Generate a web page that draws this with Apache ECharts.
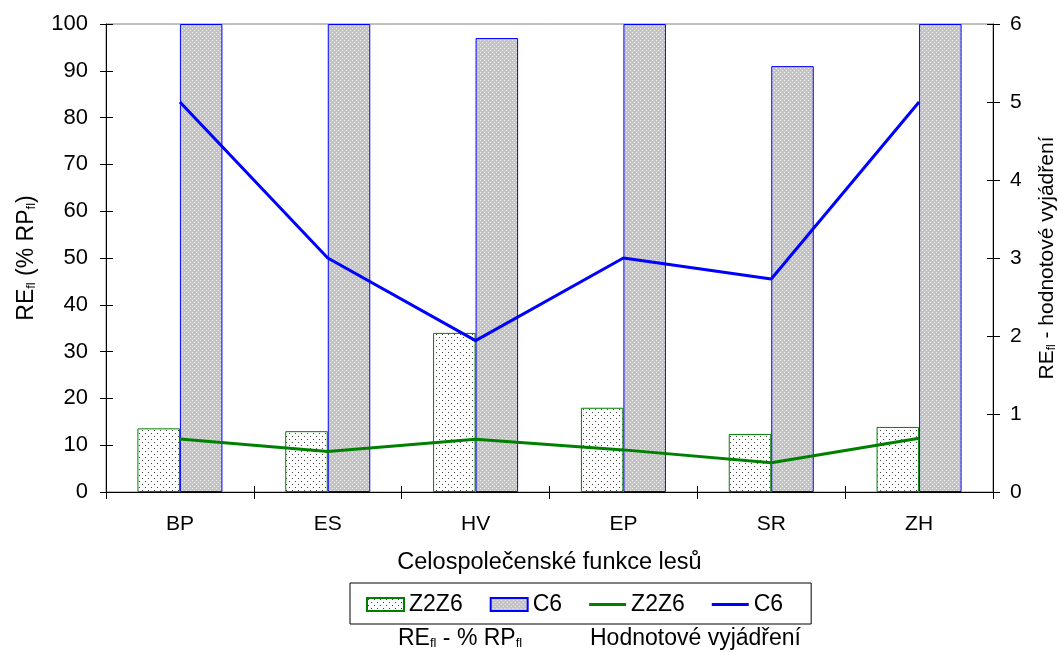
<!DOCTYPE html>
<html><head><meta charset="utf-8">
<script src="https://cdn.jsdelivr.net/npm/echarts@6/dist/echarts.min.js"></script>
<style>html,body{margin:0;padding:0;background:#fff}#c{width:1058px;height:652px}</style>
</head><body><div id="c"></div>
<script>
const categories = ['BP','ES','HV','EP','SR','ZH'];
const barZ2Z6 = [13.6, 13.0, 34.0, 18.0, 12.4, 13.9];
const barC6 = [100, 100, 97, 100, 91, 100];
const lineZ2Z6 = [0.68, 0.52, 0.675, 0.54, 0.375, 0.69];
const lineC6 = [5, 3, 1.94, 3, 2.73, 5];
const leftTicks = {min:0, max:100, interval:10};
const rightTicks = {min:0, max:6, interval:1};

function pattern(bg, dot, size, dots){
  const c = document.createElement('canvas');
  c.width = size; c.height = size;
  const ctx = c.getContext('2d');
  ctx.fillStyle = bg; ctx.fillRect(0,0,size,size);
  ctx.fillStyle = dot;
  dots.forEach(d => ctx.fillRect(d[0], d[1], d[2] || 1, d[3] || 1));
  return {image: c, repeat: 'repeat'};
}
const patZ = pattern('#ffffff', '#444444', 6, [[1,1],[4,4]]);
const patC = pattern('#c4c4c4', '#f0f0f0', 4, [[0,0],[2,2]]);

const F = 'Liberation Sans, Arial, sans-serif';
function rich(size, sub){
  return {
    a:{fontSize:size, fontFamily:F, color:'#000'},
    s:{fontSize:sub, fontFamily:F, color:'#000', padding:[Math.round(size*0.4),0,0,0]}
  };
}

const chart = echarts.init(document.getElementById('c'));
chart.setOption({
  animation:false,
  textStyle:{fontFamily:F},
  grid:{left:106, right:65, top:24, bottom:160, show:true, borderColor:'#808080', borderWidth:1,
    outerBoundsMode:'none', containLabel:false},
  legend:{
    left:350, top:583, padding:[10,28,8,16], itemGap:27,
    borderColor:'#000', borderWidth:1,
    textStyle:{fontSize:23, fontFamily:F, color:'#000'},
    data:[
      {name:'Z2Z6', icon:'rect'},
      {name:'C6', icon:'rect'},
      {name:'Z2Z6 ', icon:'path://M0,0 L40,0 L40,3 L0,3 Z', itemStyle:{color:'#008000'}},
      {name:'C6 ', icon:'path://M0,0 L40,0 L40,3 L0,3 Z', itemStyle:{color:'#0000ff'}}
    ],
    itemWidth:37, itemHeight:13,
    formatter: n => n.trim()
  },
  xAxis:[{
    type:'category', data:categories,
    axisLine:{lineStyle:{color:'#000', width:1}},
    axisTick:{show:true, length:7, lineStyle:{color:'#000'}},
    axisLabel:{fontSize:21, fontFamily:F, color:'#000', margin:22},
    name:'Celospolečenské funkce lesů', nameLocation:'middle', nameGap:59,
    nameTextStyle:{fontSize:23.5, fontFamily:F, color:'#000'}
  },{
    type:'category', data:categories, position:'bottom',
    axisLine:{show:false}, axisLabel:{show:false},
    axisTick:{show:true, inside:true, length:6, lineStyle:{color:'#000'}}
  }],
  yAxis:[{
    type:'value', position:'left', min:leftTicks.min, max:leftTicks.max, interval:leftTicks.interval,
    axisLine:{show:true, lineStyle:{color:'#000'}},
    axisTick:{show:true, length:6, lineStyle:{color:'#000'}},
    axisLabel:{fontSize:22, fontFamily:F, color:'#000', margin:18},
    splitLine:{show:false},
    name:'{a|RE}{s|fl}{a| (% RP}{s|fl}{a|)}', nameLocation:'middle', nameGap:68,
    nameTextStyle:{rich:rich(23, 13)}
  },{
    type:'value', position:'right', min:rightTicks.min, max:rightTicks.max, interval:rightTicks.interval,
    axisLine:{show:true, lineStyle:{color:'#000'}},
    axisTick:{show:true, length:7, lineStyle:{color:'#000'}},
    axisLabel:{fontSize:21, fontFamily:F, color:'#000', margin:17},
    splitLine:{show:false},
    name:'{a|RE}{s|fl}{a| - hodnotové vyjádření}', nameLocation:'middle', nameGap:44,
    nameRotate:90,
    nameTextStyle:{rich:rich(21, 12)}
  },{
    type:'value', position:'left', min:leftTicks.min, max:leftTicks.max, interval:leftTicks.interval,
    axisLine:{show:false}, axisLabel:{show:false}, splitLine:{show:false},
    axisTick:{show:true, inside:true, length:7, lineStyle:{color:'#000'}}
  },{
    type:'value', position:'right', min:rightTicks.min, max:rightTicks.max, interval:rightTicks.interval,
    axisLine:{show:false}, axisLabel:{show:false}, splitLine:{show:false},
    axisTick:{show:true, inside:true, length:6, lineStyle:{color:'#000'}}
  }],
  series:[
    {name:'Z2Z6', type:'bar', data:barZ2Z6, yAxisIndex:0, barWidth:42.5, barGap:'0%',
      itemStyle:{color:patZ, borderColor:'#008000', borderWidth:1}},
    {name:'C6', type:'bar', data:barC6, yAxisIndex:0, barWidth:42.5, barGap:'0%',
      itemStyle:{color:patC, borderColor:'#0000ff', borderWidth:1}},
    {name:'Z2Z6 ', type:'line', data:lineZ2Z6, yAxisIndex:1, symbol:'none',
      lineStyle:{color:'#008000', width:3}, itemStyle:{color:'#008000'}, z:5},
    {name:'C6 ', type:'line', data:lineC6, yAxisIndex:1, symbol:'none',
      lineStyle:{color:'#0000ff', width:3}, itemStyle:{color:'#0000ff'}, z:5}
  ],
  graphic:[
    {type:'text', left:398, top:627, style:{text:'{a|RE}{s|fl}{a| - % RP}{s|fl}', rich:rich(23, 13)}},
    {type:'text', left:590, top:627, style:{text:'Hodnotové vyjádření', fontSize:23, fontFamily:F, fill:'#000'}}
  ]
});
</script></body></html>
